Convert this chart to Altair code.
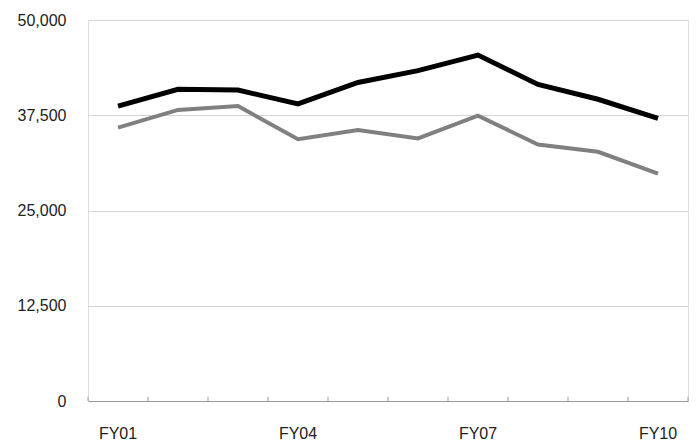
import altair as alt
import pandas as pd

years = ["FY01", "FY02", "FY03", "FY04", "FY05", "FY06", "FY07", "FY08", "FY09", "FY10"]
series_black = [38700, 40900, 40800, 39000, 41800, 43350, 45400, 41550, 39600, 37100]
series_gray = [35870, 38200, 38700, 34350, 35550, 34450, 37450, 33650, 32700, 29850]
shown_labels = ["FY01", "FY04", "FY07", "FY10"]
y_ticks = [0, 12500, 25000, 37500, 50000]

df = pd.DataFrame({
    "year": years * 2,
    "value": series_black + series_gray,
    "series": ["Black"] * len(years) + ["Gray"] * len(years),
})
ticks_df = pd.DataFrame({"year": years})

W, H = 600, 381
FONT = "Liberation Sans"

xscale = alt.Scale(type="band", domain=years, paddingInner=0, paddingOuter=0)

label_test = " || ".join([f"datum.value == '{l}'" for l in shown_labels])

lines = alt.Chart(df).mark_line(strokeCap="butt", strokeJoin="miter").encode(
    x=alt.X("year:N", scale=xscale, bandPosition=0.5, sort=years,
            axis=alt.Axis(title=None, ticks=False, labelPadding=32, labelAngle=0,
                          bandPosition=0.5, labelAlign="center",
                          labelExpr=f"({label_test}) ? datum.value : ''",
                          domainColor="#999999", domainWidth=1, grid=False,
                          labelFont=FONT, labelFontSize=16, labelColor="#222222")),
    y=alt.Y("value:Q", scale=alt.Scale(domain=[0, 50000], nice=False),
            axis=alt.Axis(title=None, values=y_ticks, format=",.0f", ticks=False, domain=False,
                          labelPadding=22, gridColor="#d4d4d4", gridWidth=1,
                          labelFont=FONT, labelFontSize=16, labelColor="#222222")),
    color=alt.Color("series:N", scale=alt.Scale(domain=["Black", "Gray"], range=["#000000", "#808080"]), legend=None),
    strokeWidth=alt.StrokeWidth("series:N", scale=alt.Scale(domain=["Black", "Gray"], range=[5, 4]), legend=None),
    order=alt.Order("series:N", sort="descending"),
)

tick_marks = alt.Chart(ticks_df).mark_rule(color="#999999", strokeWidth=1).encode(
    x=alt.X("year:N", scale=xscale, bandPosition=0, sort=years),
    y=alt.value(H),
    y2=alt.value(H - 4),
)
last_tick = alt.Chart(ticks_df).transform_filter(
    alt.datum.year == years[-1]
).mark_rule(color="#999999", strokeWidth=1).encode(
    x=alt.X("year:N", scale=xscale, bandPosition=1, sort=years),
    y=alt.value(H),
    y2=alt.value(H - 4),
)

chart = alt.layer(tick_marks, last_tick, lines).properties(
    width=W, height=H,
    autosize=alt.AutoSizeParams(type="none"),
    padding={"left": 80, "top": 12, "right": 3, "bottom": 42},
).configure_view(stroke=None).configure(background="white")

chart.save("out.html", embed_options={"renderer": "svg", "actions": False})
